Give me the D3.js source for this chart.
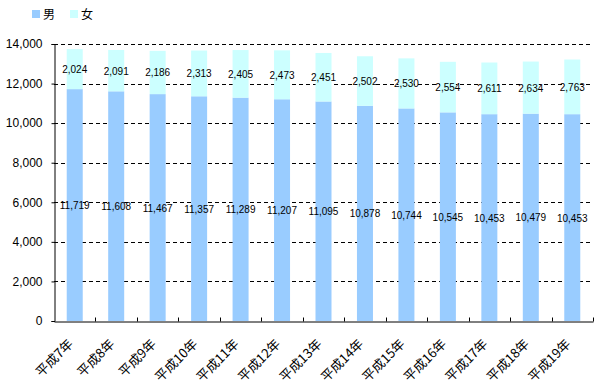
<!DOCTYPE html>
<html>
<head>
<meta charset="utf-8">
<script src="https://cdn.jsdelivr.net/npm/d3@7"></script>
<style>
  body { margin: 0; background: #fff; }
  text { font-family: "Liberation Sans", Arial, sans-serif; fill: #000; }
</style>
</head>
<body>
<div class="chart-container"></div>
<script>
var years = ['平成7年', '平成8年', '平成9年', '平成10年', '平成11年', '平成12年', '平成13年',
  '平成14年', '平成15年', '平成16年', '平成17年', '平成18年', '平成19年'];
var male = [11719, 11608, 11467, 11357, 11289, 11207, 11095, 10878, 10744, 10545, 10453, 10479, 10453];
var female = [2024, 2091, 2186, 2313, 2405, 2473, 2451, 2502, 2530, 2554, 2611, 2634, 2763];
var yTicks = [0, 2000, 4000, 6000, 8000, 10000, 12000, 14000];
var seriesNames = ['男', '女'];
var colors = ['#99ccff', '#ccffff'];

var margin = {top: 44, right: 7, bottom: 69, left: 54},
  width = 600 - margin.left - margin.right,
  height = 390 - margin.top - margin.bottom;

var svg = d3.select('.chart-container').append('svg')
    .attr('width', 600)
    .attr('height', 390);

var g = svg.append('g')
    .attr('transform', 'translate(' + margin.left + ',' + margin.top + ')');

var x = d3.scaleBand().domain(years).range([0, width]);
var y = d3.scaleLinear().domain([0, 14000]).range([height, 0]);
var barW = 16;

// gridlines
g.selectAll('.grid').data(yTicks.filter(function (d) { return d > 0; }))
  .enter().append('line')
    .attr('x1', 0).attr('x2', width)
    .attr('y1', function (d) { return Math.round(y(d)) + 0.5; })
    .attr('y2', function (d) { return Math.round(y(d)) + 0.5; })
    .attr('stroke', '#000')
    .attr('stroke-dasharray', '4,3');

var data = years.map(function (k, i) { return {year: k, m: male[i], f: female[i]}; });

// bars
var bars = g.selectAll('.bar').data(data).enter().append('g');
bars.append('rect')
    .attr('x', function (d) { return x(d.year) + x.bandwidth() / 2 - barW / 2; })
    .attr('width', barW)
    .attr('y', function (d) { return y(d.m); })
    .attr('height', function (d) { return y(0) - y(d.m); })
    .attr('fill', colors[0]);
bars.append('rect')
    .attr('x', function (d) { return x(d.year) + x.bandwidth() / 2 - barW / 2; })
    .attr('width', barW)
    .attr('y', function (d) { return y(d.m + d.f); })
    .attr('height', function (d) { return y(d.m) - y(d.m + d.f); })
    .attr('fill', colors[1]);

// value labels
var fmt = d3.format(',');
bars.append('text')
    .attr('x', function (d) { return x(d.year) + x.bandwidth() / 2; })
    .attr('y', function (d) { return (y(0) + y(d.m)) / 2 + 4; })
    .attr('text-anchor', 'middle')
    .style('font-size', '10px')
    .text(function (d) { return fmt(d.m); });
bars.append('text')
    .attr('x', function (d) { return x(d.year) + x.bandwidth() / 2; })
    .attr('y', function (d) { return (y(d.m) + y(d.m + d.f)) / 2 + 4; })
    .attr('text-anchor', 'middle')
    .style('font-size', '10px')
    .text(function (d) { return fmt(d.f); });

// y axis
var yAxis = g.append('g')
    .attr('transform', 'translate(0.5,0)')
    .call(d3.axisLeft(y).tickValues(yTicks).tickFormat(fmt).tickSize(3).tickPadding(9));
yAxis.select('.domain').attr('stroke', '#000');
yAxis.selectAll('text').style('font-size', '12px');

// x axis
var xAxis = g.append('g')
    .attr('transform', 'translate(0,' + (Math.round(height) + 0.5) + ')')
    .call(d3.axisBottom(x).tickSize(0).tickPadding(8));
xAxis.select('.domain').attr('stroke', '#000');
xAxis.selectAll('text')
    .style('font-size', '13px')
    .style('font-family', '"Noto Sans CJK JP", sans-serif')
    .attr('text-anchor', 'end')
    .attr('dy', '0.35em')
    .attr('transform', 'translate(-4,20) rotate(-45)')
    .attr('x', 0).attr('y', 0);
// small ticks between categories
xAxis.selectAll('.sep').data(years.slice(1).concat(['end']))
  .enter().append('line')
    .attr('x1', function (d, i) { return Math.round(x.step() * (i + 1)) + 0.5; })
    .attr('x2', function (d, i) { return Math.round(x.step() * (i + 1)) + 0.5; })
    .attr('y1', 0).attr('y2', -4)
    .attr('stroke', '#000');

// legend
var legend = svg.append('g').attr('transform', 'translate(32,9)');
var item = legend.selectAll('.item').data(seriesNames).enter().append('g')
    .attr('transform', function (d, i) { return 'translate(' + (i * 38) + ',0)'; });
item.append('rect').attr('width', 8).attr('height', 8).attr('y', 1)
    .attr('fill', function (d, i) { return colors[i]; });
item.append('text').attr('x', 11).attr('y', 9.5)
    .style('font-size', '12px')
    .style('font-family', '"Noto Sans CJK JP", sans-serif')
    .text(function (d) { return d; });
</script>
</body>
</html>
